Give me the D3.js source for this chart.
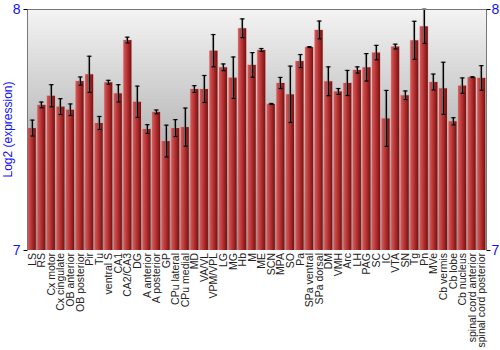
<!DOCTYPE html>
<html>
<head>
<meta charset="utf-8">
<script src="https://cdn.jsdelivr.net/npm/d3@7"></script>
<style>
  body { margin: 0; background: #fff; }
  text { font-family: "Liberation Sans", Arial, sans-serif; }
</style>
</head>
<body>
<script>
var regions = ['LS', 'RS', 'Cx motor', 'Cx cingulate', 'OB anterior', 'OB posterior', 'Pir', 'Tu',
  'ventral S', 'CA1', 'CA2/CA3', 'DG', 'A anterior', 'A posterior', 'GP', 'CPu lateral', 'CPu medial',
  'MD', 'VA/VL', 'VPM/VPL', 'LG', 'MG', 'Hb', 'M', 'ME', 'SCN', 'MPA', 'SO', 'Pa', 'SPa ventral',
  'SPa dorsal', 'DM', 'VMH', 'Arc', 'LH', 'PAG', 'SC', 'IC', 'VTA', 'SN', 'Tg', 'Pn', 'MVe',
  'Cb vermis', 'Cb lobe', 'Cb nucleus', 'spinal cord anterior', 'spinal cord posterior'];

var meanExpr = [7.506, 7.602, 7.640, 7.595, 7.582, 7.701, 7.729, 7.527,
  7.696, 7.650, 7.871, 7.615, 7.502, 7.573, 7.452, 7.506, 7.510,
  7.668, 7.668, 7.827, 7.758, 7.715, 7.920, 7.768, 7.830, 7.606, 7.693, 7.646, 7.784, 7.842,
  7.913, 7.700, 7.658, 7.693, 7.747, 7.758, 7.819, 7.546, 7.844, 7.642, 7.870, 7.928, 7.697,
  7.671, 7.534, 7.682, 7.717, 7.714];

var errExpr = [0.033, 0.012, 0.046, 0.033, 0.024, 0.017, 0.075, 0.027,
  0.008, 0.036, 0.012, 0.065, 0.018, 0.008, 0.066, 0.035, 0.079,
  0.014, 0.056, 0.067, 0.014, 0.086, 0.039, 0.051, 0.006, 0.002, 0.023, 0.117, 0.027, 0.002,
  0.037, 0.060, 0.012, 0.052, 0.013, 0.057, 0.030, 0.116, 0.010, 0.018, 0.079, 0.071, 0.033,
  0.108, 0.015, 0.032, 0.002, 0.051];

var yTicks = [7, 8];

var width = 500, height = 350;
var plotLeft = 27, plotRight = 486, plotTop = 9, plotBottom = 250;

var svg = d3.select('body')
  .append('svg')
  .attr('width', width)
  .attr('height', height);

var defs = svg.append('defs');

var bg = defs.append('linearGradient')
  .attr('id', 'bg')
  .attr('x1', 0).attr('y1', 0).attr('x2', 0).attr('y2', 1);
bg.append('stop').attr('offset', '0%').attr('stop-color', '#f4f4f4');
bg.append('stop').attr('offset', '100%').attr('stop-color', '#858585');

var barGrad = defs.append('linearGradient')
  .attr('id', 'bar')
  .attr('x1', 0).attr('y1', 0).attr('x2', 1).attr('y2', 0);
barGrad.append('stop').attr('offset', '0%').attr('stop-color', '#d65a5a');
barGrad.append('stop').attr('offset', '45%').attr('stop-color', '#b83434');
barGrad.append('stop').attr('offset', '100%').attr('stop-color', '#761010');

var x = d3.scaleBand()
  .domain(regions)
  .range([plotLeft, plotRight])
  .paddingInner(0.16)
  .paddingOuter(0.08);

var y = d3.scaleLinear()
  .domain([7, 8])
  .range([plotBottom, plotTop]);

svg.append('rect')
  .attr('x', plotLeft)
  .attr('y', plotTop)
  .attr('width', plotRight - plotLeft)
  .attr('height', plotBottom - plotTop)
  .attr('fill', 'url(#bg)');

var rows = regions.map(function (r, i) {
  return { name: r, mean: meanExpr[i], err: errExpr[i] };
});

var plot = svg.append('g');

// soft halo behind bars
plot.selectAll('rect.halo')
  .data(rows)
  .enter().append('rect')
  .attr('class', 'halo')
  .attr('x', function (d) { return x(d.name) - 0.5; })
  .attr('y', function (d) { return y(d.mean) - 0.5; })
  .attr('width', x.bandwidth() + 1)
  .attr('height', function (d) { return plotBottom - y(d.mean) + 0.5; })
  .attr('fill', '#e8a0a0')
  .attr('opacity', 0.6);

plot.selectAll('rect.bar')
  .data(rows)
  .enter().append('rect')
  .attr('class', 'bar')
  .attr('x', function (d) { return x(d.name); })
  .attr('y', function (d) { return y(d.mean); })
  .attr('width', x.bandwidth())
  .attr('height', function (d) { return plotBottom - y(d.mean); })
  .attr('fill', 'url(#bar)');

// error bars: grey shadow then black
[{ dx: -1, color: '#777', op: 0.8 }, { dx: 0, color: '#000', op: 1 }].forEach(function (s) {
  var g = plot.append('g')
    .attr('stroke', s.color)
    .attr('opacity', s.op)
    .attr('stroke-width', 1.2);
  var cx = function (d) { return Math.round(x(d.name) + x.bandwidth() / 2) + s.dx + 0.5; };
  var hi = function (d) { return Math.max(plotTop, y(d.mean + d.err)); };
  var lo = function (d) { return y(d.mean - d.err); };
  g.selectAll('line.v')
    .data(rows)
    .enter().append('line')
    .attr('x1', cx).attr('x2', cx)
    .attr('y1', hi)
    .attr('y2', lo);
  g.selectAll('line.t')
    .data(rows)
    .enter().append('line')
    .attr('x1', function (d) { return cx(d) - 2; })
    .attr('x2', function (d) { return cx(d) + 2; })
    .attr('y1', hi)
    .attr('y2', hi);
  g.selectAll('line.b')
    .data(rows)
    .enter().append('line')
    .attr('x1', function (d) { return cx(d) - 2; })
    .attr('x2', function (d) { return cx(d) + 2; })
    .attr('y1', lo)
    .attr('y2', lo);
});

// frame
svg.append('path')
  .attr('d', 'M' + (plotLeft + 0.5) + ',' + plotBottom + 'V' + (plotTop + 0.5) +
    'H' + (plotRight + 0.5) + 'V' + plotBottom)
  .attr('fill', 'none')
  .attr('stroke', '#777')
  .attr('stroke-width', 1);

var yAxisL = svg.append('g')
  .attr('transform', 'translate(' + (plotLeft + 0.5) + ',0)')
  .call(d3.axisLeft(y).tickValues(yTicks).tickFormat(d3.format('d')).tickSize(4));
var yAxisR = svg.append('g')
  .attr('transform', 'translate(' + (plotRight + 0.5) + ',0)')
  .call(d3.axisRight(y).tickValues(yTicks).tickFormat(d3.format('d')).tickSize(4));

[yAxisL, yAxisR].forEach(function (a) {
  a.select('.domain').remove();
  a.selectAll('line').attr('stroke', '#000');
  a.selectAll('text')
    .attr('fill', '#1010ff')
    .style('font-size', '14px')
    .attr('font-family', '"Liberation Sans", Arial, sans-serif');
});
yAxisL.selectAll('text').attr('x', -7);
yAxisR.selectAll('text').attr('x', 5);

svg.append('text')
  .attr('transform', 'translate(12,' + ((plotTop + plotBottom) / 2) + ') rotate(-90)')
  .attr('text-anchor', 'middle')
  .attr('fill', '#1010ff')
  .style('font-size', '12px')
  .text('Log2 (expression)');

svg.append('g')
  .selectAll('text')
  .data(regions)
  .enter().append('text')
  .attr('transform', function (d) {
    return 'translate(' + (x(d) + x.bandwidth() / 2 + 4) + ',' + (plotBottom + 3) + ') rotate(-90)';
  })
  .attr('text-anchor', 'end')
  .attr('fill', '#222')
  .style('font-size', '10.5px')
  .text(function (d) { return d; });
</script>
</body>
</html>
